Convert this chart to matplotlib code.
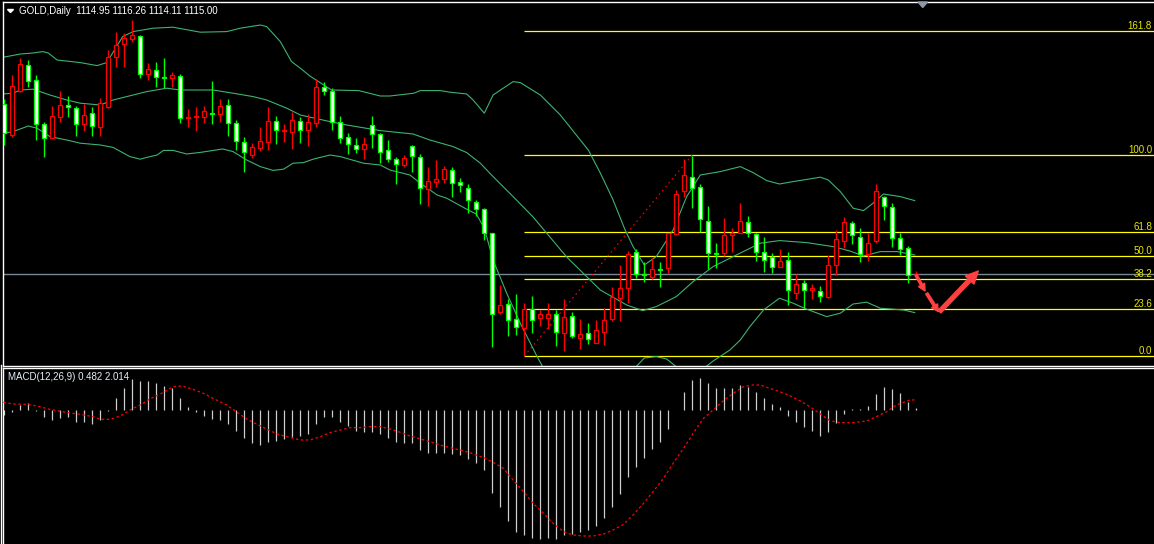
import matplotlib
matplotlib.use("Agg")
import matplotlib.pyplot as plt
import matplotlib.patches as mpatches
from matplotlib.lines import Line2D

# ---------------- data ----------------
OPEN = [1200.0, 1184.5, 1206.5, 1219.5, 1212.0, 1190.0, 1183.0, 1193.5, 1199.5, 1198.0,
        1190.0, 1195.5, 1188.5, 1198.5, 1223.5, 1230.0, 1232.5, 1234.0, 1215.0, 1217.0,
        1213.5, 1213.0, 1214.0, 1193.0, 1193.5, 1193.5, 1195.5, 1195.0, 1199.5, 1190.5,
        1181.0, 1174.5, 1178.0, 1181.0, 1191.5, 1186.5, 1186.0, 1191.5, 1187.0, 1190.5,
        1208.5, 1206.5, 1191.0, 1183.5, 1179.5, 1177.5, 1189.5, 1185.0, 1177.0, 1172.5,
        1169.5, 1179.0, 1173.5, 1157.5, 1161.0, 1162.5, 1167.0, 1161.0, 1158.0, 1151.0,
        1147.5, 1135.5, 1096.0, 1100.0, 1092.5, 1088.0, 1097.5, 1093.0, 1093.0, 1095.0,
        1085.5, 1094.0, 1083.0, 1085.5, 1080.5, 1086.0, 1092.5, 1103.0, 1108.0, 1126.0,
        1115.0, 1113.5, 1117.5, 1118.0, 1135.0, 1156.5, 1163.5, 1158.5, 1141.5, 1125.5,
        1125.5, 1134.5, 1135.5, 1141.0, 1135.0, 1126.0, 1123.5, 1118.5, 1122.0, 1105.5,
        1110.5, 1107.0, 1106.5, 1103.5, 1119.5, 1131.5, 1140.5, 1133.5, 1125.0, 1131.5,
        1153.5, 1148.5, 1133.0, 1128.0, 1114.95]
HIGH = [1202.5, 1214.5, 1223.0, 1222.0, 1214.5, 1191.0, 1199.0, 1206.5, 1204.0, 1199.0,
        1200.0, 1198.5, 1203.0, 1227.0, 1236.0, 1235.5, 1242.0, 1234.5, 1220.5, 1221.0,
        1223.0, 1216.0, 1215.0, 1197.5, 1198.5, 1199.0, 1211.5, 1202.5, 1202.5, 1192.0,
        1183.5, 1180.5, 1188.5, 1198.5, 1194.0, 1190.0, 1196.0, 1193.5, 1195.0, 1212.5,
        1211.0, 1208.0, 1194.0, 1185.5, 1183.0, 1183.5, 1194.0, 1185.5, 1182.0, 1173.5,
        1174.5, 1179.5, 1175.0, 1168.5, 1172.0, 1169.0, 1168.5, 1163.0, 1160.0, 1152.0,
        1148.0, 1135.5, 1109.5, 1102.5, 1105.0, 1100.5, 1104.0, 1097.0, 1100.5, 1097.0,
        1102.5, 1096.0, 1092.5, 1090.5, 1092.0, 1098.0, 1108.5, 1119.5, 1126.5, 1127.5,
        1121.0, 1123.0, 1121.0, 1135.5, 1157.0, 1172.5, 1174.0, 1160.0, 1149.0, 1130.5,
        1143.0, 1138.0, 1150.5, 1144.0, 1135.5, 1133.5, 1125.5, 1127.5, 1126.0, 1115.0,
        1112.0, 1110.0, 1109.0, 1124.5, 1137.0, 1143.5, 1141.5, 1138.0, 1135.5, 1160.0,
        1154.0, 1150.5, 1135.5, 1129.0, 1116.26]
LOW = [1179.5, 1183.5, 1206.0, 1208.5, 1182.0, 1173.5, 1183.0, 1191.0, 1193.5, 1184.0,
       1186.5, 1184.0, 1184.0, 1198.0, 1218.5, 1218.5, 1231.0, 1213.0, 1212.0, 1208.5,
       1208.0, 1208.5, 1190.5, 1188.5, 1186.5, 1190.5, 1190.0, 1191.0, 1184.0, 1177.0,
       1166.0, 1173.0, 1176.5, 1177.0, 1180.0, 1181.0, 1177.5, 1180.5, 1179.0, 1188.5,
       1204.5, 1187.0, 1180.5, 1175.0, 1175.5, 1172.5, 1178.0, 1170.5, 1171.0, 1160.0,
       1168.5, 1166.0, 1150.0, 1149.0, 1158.5, 1160.5, 1153.5, 1156.0, 1145.5, 1144.0,
       1132.0, 1078.5, 1095.0, 1084.0, 1084.5, 1074.0, 1085.5, 1089.0, 1087.5, 1079.0,
       1076.5, 1083.0, 1077.5, 1080.0, 1080.5, 1079.5, 1091.5, 1091.5, 1100.5, 1113.0,
       1111.0, 1112.5, 1108.5, 1115.5, 1135.0, 1153.5, 1148.0, 1136.0, 1117.5, 1118.0,
       1124.0, 1126.0, 1135.5, 1133.5, 1121.5, 1116.0, 1115.5, 1118.5, 1099.5, 1102.5,
       1098.0, 1102.5, 1101.0, 1103.0, 1114.5, 1128.0, 1130.0, 1121.0, 1121.5, 1130.5,
       1142.0, 1128.5, 1124.5, 1110.5, 1114.11]
CLOSE = [1185.5, 1209.0, 1220.0, 1211.5, 1190.0, 1183.0, 1194.0, 1199.5, 1198.5, 1190.0,
         1194.5, 1189.0, 1200.5, 1223.5, 1229.5, 1233.0, 1234.5, 1215.0, 1217.5, 1213.5,
         1213.0, 1214.5, 1193.0, 1193.5, 1194.0, 1196.5, 1195.0, 1199.0, 1190.5, 1181.5,
         1176.0, 1178.5, 1181.5, 1191.5, 1187.0, 1187.0, 1192.0, 1187.0, 1191.0, 1208.5,
         1206.5, 1191.0, 1183.0, 1180.0, 1177.5, 1180.0, 1185.0, 1176.0, 1172.5, 1170.0,
         1173.0, 1174.0, 1158.0, 1161.5, 1162.5, 1167.5, 1160.5, 1159.5, 1152.0, 1147.5,
         1135.5, 1095.0, 1099.5, 1092.0, 1088.5, 1097.5, 1092.0, 1095.0, 1095.0, 1086.0,
         1093.5, 1084.0, 1085.0, 1082.5, 1087.0, 1092.0, 1103.5, 1108.0, 1125.0, 1115.0,
         1114.5, 1117.5, 1117.0, 1135.5, 1155.0, 1164.5, 1158.0, 1142.5, 1125.5, 1125.0,
         1134.5, 1135.5, 1141.5, 1135.5, 1126.0, 1122.0, 1118.5, 1121.5, 1107.0, 1110.0,
         1107.0, 1108.0, 1104.0, 1119.5, 1132.5, 1141.0, 1134.5, 1125.0, 1130.5, 1156.5,
         1149.0, 1133.0, 1127.5, 1114.5, 1115.0]

# Bollinger bands (bar position, price)
UPPER_X = [-0.1, 2.0, 3.6, 4.8, 5.5, 6.6, 9.5, 11.6, 12.8, 14.8, 16.1, 18.6, 21.1, 24.5,
           27.8, 29.5, 32.0, 32.8, 34.5, 35.9, 37.0, 38.2, 40.9, 44.3, 47.0, 48.2, 51.2,
           52.0, 54.5, 55.7, 57.8, 58.6, 60.0, 61.1, 63.6, 64.5, 67.0, 69.5, 71.3, 73.0,
           74.5, 76.1, 77.6, 78.6, 80.0, 81.5, 83.6, 85.3, 87.0, 89.5, 92.0, 93.6, 95.3,
           96.9, 98.6, 102.0, 103.0, 104.5, 106.1, 107.4, 108.6, 109.9, 112.0, 113.8]
UPPER_Y = [1223.4, 1225.0, 1225.5, 1226.2, 1225.5, 1222.0, 1220.7, 1219.2, 1220.7, 1233.7,
           1236.2, 1237.9, 1238.4, 1235.9, 1236.2, 1237.9, 1239.5, 1238.7, 1231.2, 1221.2,
           1217.9, 1214.0, 1207.0, 1206.7, 1204.0, 1204.0, 1205.4, 1206.7, 1206.7, 1205.9,
           1205.0, 1202.0, 1195.4, 1204.5, 1211.2, 1210.7, 1204.5, 1194.5, 1185.5, 1177.0,
           1165.5, 1152.0, 1137.0, 1128.7, 1119.5, 1123.7, 1137.0, 1153.7, 1164.5, 1166.2,
           1168.7, 1165.7, 1161.7, 1160.0, 1161.2, 1163.4, 1162.0, 1156.2, 1147.9, 1146.7,
           1150.4, 1155.0, 1153.7, 1151.7]
MID_X = [-0.5, 1.1, 2.0, 3.6, 5.7, 7.8, 9.5, 12.0, 13.6, 15.3, 17.8, 20.3, 22.0, 26.1,
         28.6, 31.1, 32.8, 35.3, 37.0, 40.7, 42.8, 47.0, 51.1, 53.2, 56.1, 57.8, 59.5,
         61.1, 63.6, 66.1, 70.3, 74.5, 77.8, 79.8, 81.5, 84.0, 86.1, 88.6, 91.1, 94.5,
         96.9, 100.3, 103.6, 105.7, 107.4, 109.5, 111.6, 113.8]
MID_Y = [1204.9, 1205.4, 1207.0, 1207.4, 1204.5, 1202.0, 1200.4, 1199.5, 1202.0, 1203.7,
         1206.2, 1207.9, 1207.0, 1207.0, 1205.4, 1203.7, 1202.0, 1197.9, 1194.5, 1191.2,
         1189.5, 1186.7, 1185.0, 1182.0, 1178.7, 1175.7, 1170.4, 1163.7, 1153.7, 1143.5,
         1123.5, 1107.0, 1099.5, 1096.7, 1098.7, 1103.7, 1111.2, 1118.7, 1123.7, 1130.4,
         1131.7, 1130.7, 1128.7, 1126.5, 1124.0, 1126.2, 1126.2, 1124.5]
LOWER_X = [-0.1, 1.1, 3.0, 4.1, 5.7, 7.8, 9.5, 12.0, 13.6, 15.7, 17.0, 17.8, 19.1, 19.9,
           21.1, 22.8, 24.5, 27.3, 28.6, 30.3, 32.0, 33.6, 34.9, 36.1, 37.4, 38.6, 40.7,
           42.0, 44.9, 47.0, 48.2, 50.7, 52.0, 54.1, 55.3, 57.8, 59.0, 60.0, 61.1, 62.8,
           64.5, 66.5, 69.5, 72.0, 74.5, 77.0, 78.6, 80.0, 81.5, 82.8, 84.5, 86.1, 88.6,
           90.7, 92.0, 93.2, 94.9, 96.9, 98.6, 100.3, 102.8, 104.5, 106.1, 107.8, 109.5,
           112.4, 113.8]
LOWER_Y = [1185.4, 1186.2, 1189.0, 1187.9, 1183.7, 1182.0, 1180.4, 1179.5, 1178.3, 1173.7,
           1172.4, 1173.3, 1174.5, 1176.8, 1176.8, 1175.0, 1175.8, 1177.5, 1176.2, 1172.0,
           1168.7, 1166.8, 1167.4, 1170.4, 1170.7, 1172.4, 1174.5, 1173.7, 1170.4, 1169.5,
           1167.0, 1164.5, 1160.4, 1154.5, 1152.9, 1147.4, 1145.0, 1137.9, 1122.0, 1105.4,
           1090.4, 1074.5, 1052.5, 1047.0, 1048.5, 1059.5, 1067.0, 1073.0, 1073.7, 1072.5,
           1067.0, 1063.5, 1071.5, 1077.0, 1082.0, 1088.7, 1097.0, 1102.9, 1100.4, 1097.4,
           1093.7, 1095.4, 1100.0, 1100.9, 1097.9, 1097.0, 1095.7]

MACD = [-1.0, -0.33, 1.0, 1.33, -0.13, -1.33, -2.0, -1.67, -1.47, -2.33,
        -2.33, -2.87, -2.0, -0.13, 2.33, 4.33, 6.2, 5.8, 5.8, 5.33,
        4.87, 4.33, 2.33, 0.67, -0.33, -1.13, -1.8, -2.0, -2.8, -4.13,
        -5.67, -6.53, -7.0, -6.33, -6.2, -5.8, -5.47, -5.2, -4.8, -2.8,
        -1.33, -1.47, -2.33, -3.2, -4.13, -4.47, -4.47, -4.87, -5.53, -6.33,
        -6.53, -6.53, -8.0, -8.53, -8.67, -8.53, -8.8, -9.0, -9.8, -10.53,
        -12.0, -16.53, -19.33, -22.13, -24.33, -25.0, -25.67, -25.8, -25.53, -25.8,
        -25.0, -24.8, -24.33, -24.0, -23.13, -21.53, -19.33, -16.8, -13.33, -11.33,
        -9.53, -7.8, -6.33, -3.8, 0.0, 3.53, 6.0, 6.33, 5.33, 4.33,
        4.33, 4.33, 5.0, 4.53, 3.53, 2.33, 1.2, 0.53, -1.13, -2.47,
        -3.33, -4.2, -5.13, -4.33, -2.67, -0.8, 0.2, 0.2, 0.8, 3.2,
        4.53, 4.13, 3.33, 1.53, 0.482]
SIGNAL_X = [-0.1, 1.1, 2.8, 4.05, 5.7, 7.8, 9.5, 11.1, 12.0, 13.2, 14.5, 15.7, 17.0, 18.2,
            19.9, 21.1, 22.2, 23.6, 24.9, 26.1, 27.8, 29.1, 30.3, 31.6, 32.8, 34.1, 35.3,
            37.0, 38.2, 39.5, 40.7, 42.0, 43.2, 44.5, 45.7, 47.0, 48.2, 49.0, 49.5, 50.7,
            52.0, 53.2, 54.9, 56.6, 58.2, 59.9, 61.1, 62.4, 63.6, 64.9, 66.1, 67.4, 68.6,
            69.9, 71.1, 72.4, 73.6, 74.9, 76.1, 77.4, 78.6, 79.9, 81.1, 82.4, 83.6, 84.9,
            86.1, 87.4, 88.6, 89.9, 91.1, 92.4, 93.6, 94.5, 95.7, 96.9, 98.2, 99.5, 100.7,
            102.0, 103.2, 104.5, 106.1, 107.8, 109.0, 110.3, 111.5, 112.4, 113.2, 114.0]
SIGNAL_Y = [1.53, 1.2, 1.13, 0.8, 0.13, -0.47, -0.87, -1.33, -1.87, -1.87, -1.2, 0.0, 1.0, 2.2,
            3.53, 4.67, 4.8, 4.13, 3.33, 2.33, 1.0, -0.47, -1.8, -2.87, -3.8, -4.8, -5.33,
            -6.0, -6.0, -5.33, -4.53, -4.0, -3.53, -3.53, -3.33, -3.33, -3.8, -4.2, -4.47, -5.2,
            -5.8, -6.33, -7.2, -7.87, -8.53, -9.53, -10.47, -11.67, -14.0, -16.33, -18.67, -20.67, -22.67,
            -24.33, -25.0, -25.2, -25.2, -24.8, -24.0, -22.87, -21.0, -18.67, -16.33, -13.67, -10.67, -7.67,
            -4.67, -1.67, 0.0, 1.87, 3.33, 4.67, 5.0, 5.0, 4.33, 3.67, 2.87, 1.8, 0.67,
            -0.8, -2.13, -2.53, -2.53, -2.2, -1.33, -0.33, 1.0, 1.53, 2.0, 2.014]

FIB_LEVELS = [0.0, 23.6, 38.2, 50.0, 61.8, 100.0, 161.8]
FIB_LOW, FIB_HIGH = 1074.0, 1174.5
FIB_FROM, FIB_TO = 65, 86
BID = 1115.0
TITLE = "GOLD,Daily  1114.95 1116.26 1114.11 1115.00"
MACD_TITLE = "MACD(12,26,9) 0.482 2.014"

# ---------------- theme ----------------
BG = "black"
BULL = "#ff0000"
BEAR = "#00ff00"
BAND = "#3cb371"
FIB = "#ffff00"
FONT = "Liberation Sans"

W, H = 1154, 544
fig = plt.figure(figsize=(W / 100, H / 100), dpi=100, facecolor=BG)


def px_box(x0, y0, x1, y1):
    return [x0 / W, 1 - y1 / H, (x1 - x0) / W, (y1 - y0) / H]


ax = fig.add_axes(px_box(3.3, 1.7, 1154, 365.5))
mx = fig.add_axes(px_box(3.3, 367.5, 1154, 544))

xlim = ((3.3 - 4.3) / 8, (1154 - 4.3) / 8)
for a in (ax, mx):
    a.set_facecolor(BG)
    a.set_xlim(*xlim)
    a.set_xticks([])
    a.set_yticks([])
    for s in a.spines.values():
        s.set_color("white")
        s.set_linewidth(1.0)
    a.spines["right"].set_visible(False)
mx.spines["bottom"].set_visible(False)
ax.set_ylim(1069.25, 1251.15)
mx.set_ylim(-26.8, 8.5)

fig.add_artist(Line2D([1 / W, 1 / W], [0, 1 - 365 / H], color="white", lw=1.0))

# ---------------- price panel ----------------
ax.axhline(BID, color="#778899", lw=1.0, zorder=1)

span = FIB_HIGH - FIB_LOW
for lvl in FIB_LEVELS:
    p = FIB_LOW + span * lvl / 100
    ax.hlines(p, FIB_FROM, xlim[1], color=FIB, lw=0.9, zorder=1)
    ax.annotate(f"{lvl:.1f}", xy=(1152, p), xycoords=("figure pixels", "data"),
                xytext=(0, 2), textcoords="offset pixels", ha="right", va="baseline",
                color="#e6e600", fontsize=7, family=FONT, annotation_clip=False)
ax.plot([FIB_FROM, FIB_TO], [FIB_LOW, FIB_HIGH], color=BULL, lw=0.8,
        linestyle=(0, (1.5, 3)), zorder=2)

for bx, by in ((UPPER_X, UPPER_Y), (MID_X, MID_Y), (LOWER_X, LOWER_Y)):
    ax.plot(bx, by, color=BAND, lw=0.8, zorder=2)

w = 0.5
for i, (o, h, l, c) in enumerate(zip(OPEN, HIGH, LOW, CLOSE)):
    bull = c >= o
    col = BULL if bull else BEAR
    ax.vlines(i, l, h, color=col, lw=1.0, zorder=3)
    ax.add_patch(mpatches.Rectangle((i - w / 2, min(o, c)), w, abs(c - o),
                                    facecolor=BG if bull else "white",
                                    edgecolor=col, lw=0.9, zorder=4))

# hand-drawn forecast arrows
ARROWS = [((113.96, 1114.5), (115.09, 1106.5), 5, 5, 1.6),
          ((115.3, 1105.3), (116.75, 1096.2), 5, 5, 1.8),
          ((116.9, 1096.2), (121.75, 1116.5), 9, 8.5, 2.8)]
for a0, a1, hl, hw, tw in ARROWS:
    ax.add_patch(mpatches.FancyArrowPatch(
        a0, a1, arrowstyle=mpatches.ArrowStyle.Simple(head_length=hl, head_width=hw, tail_width=tw),
        mutation_scale=1, color="#ff4040", shrinkA=0, shrinkB=0, zorder=5))

# chart shift marker and title
fig.add_artist(mpatches.Polygon([(918 / W, 1 - 2 / H), (927.5 / W, 1 - 2 / H), (922.7 / W, 1 - 7.5 / H)],
                                closed=True, transform=fig.transFigure, color="#8a9aaa"))
fig.add_artist(mpatches.Polygon([(7.5 / W, 1 - 9.5 / H), (13.5 / W, 1 - 9.5 / H), (10.5 / W, 1 - 12.5 / H)],
                                closed=True, transform=fig.transFigure, color="white"))
fig.text(19 / W, 1 - 14.3 / H, TITLE, color="white", fontsize=7, family=FONT, va="baseline")

# ---------------- MACD panel ----------------
idx = list(range(len(MACD)))
mx.vlines(idx, 0, MACD, color="#cccccc", lw=0.9, zorder=2)
mx.plot(SIGNAL_X, SIGNAL_Y, color=BULL, lw=0.9, linestyle=(0, (2, 2)), zorder=3)
fig.text(8 / W, 1 - 380 / H, MACD_TITLE, color="#e6eef8", fontsize=7, family=FONT, va="baseline")

fig.savefig("out.png", dpi=100, facecolor=BG)
